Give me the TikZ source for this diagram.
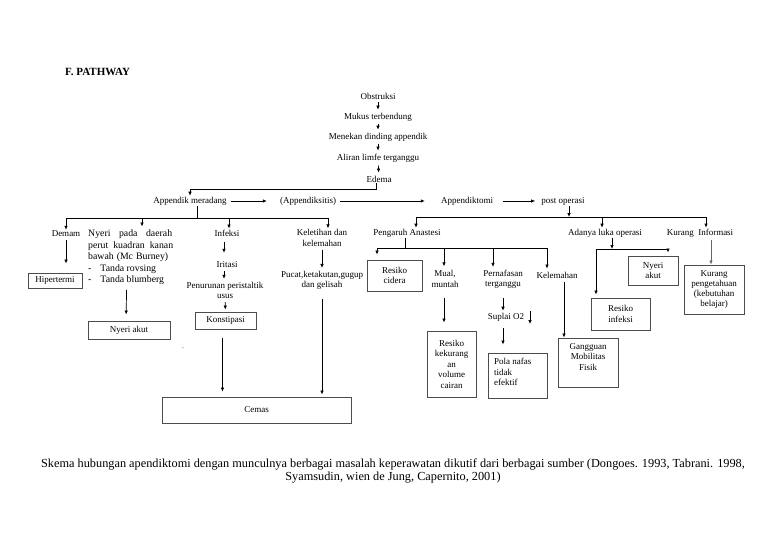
\documentclass[tikz,border=0pt]{standalone}
\usepackage{fontspec}
\setmainfont{Liberation Serif}
\usetikzlibrary{arrows.meta}
\begin{document}
\begin{tikzpicture}[x=1pt,y=-1pt,
  txt/.style={inner sep=1pt, font=\fontsize{9}{10.5}\selectfont, align=center},
  box/.style={draw=black!70, line width=0.9pt, inner sep=1pt, font=\fontsize{9}{10.5}\selectfont, align=center},
  ln/.style={line width=0.7pt},
  arr/.style={line width=0.7pt, -{Latex[length=4pt,width=3.5pt]}},
  sarr/.style={arr, shorten <=2pt, shorten >=2pt}]
\useasboundingbox (0,0) rectangle (768,543);
\node[anchor=west, inner sep=0pt, font=\bfseries\fontsize{11}{13}\selectfont] (ttl) at (65,72) {F. PATHWAY};
% main chain
\node[txt] (obs) at (378,96) {Obstruksi};
\node[txt] (muk) at (378,117) {Mukus terbendung};
\node[txt] (men) at (378,137) {Menekan dinding appendik};
\node[txt] (ali) at (378,158) {Aliran limfe terganggu};
\node[txt] (ede) at (379,179) {Edema};
\draw[sarr] (obs) -- (muk);
\draw[sarr] (muk) -- (men);
\draw[sarr] (men) -- (ali);
\draw[sarr] (ali) -- (ede);
% row
\node[txt] (amr) at (190,201) {Appendik meradang};
\node[txt] (aps) at (308,201) {(Appendiksitis)};
\node[txt] (apt) at (467,201) {Appendiktomi};
\node[txt] (pos) at (563,201) {post operasi};
\draw[arr] ([xshift=-3pt]ede.south) -- ++(0,6) -| (amr.north);
\draw[arr, shorten <=3pt, shorten >=12pt] (amr) -- (aps);
\draw[arr, shorten <=3pt, shorten >=15pt] (aps) -- (apt);
\draw[arr, shorten <=9pt, shorten >=5pt] (apt) -- (pos);
% left bus
\coordinate (lj) at (197,218);
\coordinate (lbL) at (66,218);
\coordinate (lbN) at (142,218);
\coordinate (lbI) at (229,218);
\coordinate (lbR) at (328,218);
\draw[ln] ([xshift=7pt]amr.south) -- (lj);
\draw[ln] (lbL) -- (lbR);
\node[txt] (dem) at (66,234) {Demam};
\node[anchor=north west, inner sep=0pt, align=left, font=\fontsize{9.8}{11.5}\selectfont] (nyr) at (88,229.5) {\makebox[84pt][s]{Nyeri pada daerah}\\\makebox[85pt][s]{perut kuadran kanan}\\\makebox[80pt][s]{bawah (Mc Burney)}\\-\hspace{9pt}Tanda rovsing\\-\hspace{9pt}Tanda blumberg};
\node[txt] (inf) at (227,233) {Infeksi};
\node[txt] (kel) at (322,238) {Keletihan dan\\kelemahan};
\draw[arr] (lbL) -- (dem.north);
\draw[arr, shorten >=3pt] (lbN) -- (lbN |- nyr.north);
\draw[arr] (lbI) -- (lbI |- inf.north);
\draw[arr] (lbR) -- (lbR |- kel.north);
\node[box, minimum width=54, minimum height=15] (hip) at (55,280.5) {Hipertermi};
\draw[arr, shorten <=2pt, shorten >=9pt] (dem.south) -- (dem.south |- hip.north);
\node[box, minimum width=82, minimum height=18] (nak) at (129,330) {Nyeri akut};
\draw[arr, shorten <=5pt, shorten >=6pt] ([xshift=-4pt]nyr.south) -- ([xshift=-3pt]nak.north);
% infeksi column
\node[txt] (iri) at (227,265) {Iritasi};
\node[txt] (pen) at (225,290.5) {Penurunan peristaltik\\usus};
\node[box, minimum width=61, minimum height=17] (kon) at (225.5,320.5) {Konstipasi};
\draw[arr, shorten <=5pt, shorten >=8pt] ([xshift=-3pt]inf.south) -- ([xshift=-3pt]iri.north);
\draw[sarr] ([xshift=-3pt]iri.south) -- ([xshift=-3pt]iri.south |- pen.north);
\draw[sarr] (pen) -- (kon);
\node[box, minimum width=189, minimum height=26] (cem) at (256.5,410) {Cemas};
\draw[arr, shorten <=9pt, shorten >=5pt] ([xshift=-3pt]kon.south) -- ([xshift=-3pt]kon.south |- cem.north);
\node[inner sep=0pt, font=\fontsize{5}{5}\selectfont] (dot) at (183,349) {-};
% keletihan column
\node[txt] (puc) at (322,280.5) {Pucat,ketakutan,gugup\\dan gelisah};
\draw[arr, shorten <=2pt, shorten >=2pt] (kel) -- (puc);
\draw[arr, shorten <=8pt, shorten >=2pt] (puc.south) -- (puc.south |- cem.north);
% right bus
\coordinate (rj) at (569,217);
\coordinate (rbL) at (416,217);
\coordinate (rbA) at (602,217);
\coordinate (rbR) at (706,217);
\draw[arr] ([xshift=6pt]pos.south) -- (rj);
\draw[ln] (rbL) -- (rbR);
\node[txt] (pa) at (407,233) {Pengaruh Anastesi};
\node[txt] (alo) at (605,233) {Adanya luka operasi};
\node[txt] (ki) at (700,233) {Kurang\ \ Informasi};
\draw[arr] (rbL) -- (rbL |- pa.north);
\draw[arr] (rbA) -- (rbA |- alo.north);
\draw[arr] (rbR) -- (rbR |- ki.north);
% pengaruh anastesi bus
\coordinate (pj) at (405,248);
\coordinate (pbL) at (377,248);
\coordinate (pbM) at (444,248);
\coordinate (pbP) at (493,248);
\coordinate (pbR) at (547,248);
\draw[ln] ([xshift=-2pt]pa.south) -- (pj);
\draw[ln] (pbL) -- (pbR);
\node[box, minimum width=55, minimum height=31] (rc) at (394.5,275.5) {Resiko\\cidera};
\node[txt] (mm) at (445,279) {Mual,\\muntah};
\node[txt] (pt) at (503,279.5) {Pernafasan\\terganggu};
\node[txt] (klm) at (557,275) {Kelemahan};
\draw[arr, shorten >=5pt] (pbL) -- (pbL |- rc.north);
\draw[arr, shorten >=3pt] (pbM) -- (pbM |- mm.north);
\draw[arr, shorten >=2pt] (pbP) -- (pbP |- pt.north);
\draw[arr, shorten >=2pt] (pbR) -- (pbR |- klm.north);
\node[box, minimum width=49, minimum height=66] (rkv) at (451.5,364) {Resiko\\kekurang\\an\\volume\\cairan};
\draw[arr, shorten <=9pt, shorten >=8pt] ([xshift=-1pt]mm.south) -- ([xshift=-1pt]mm.south |- rkv.north);
\node[txt] (sup) at (506,317) {Suplai O2};
\draw[arr, shorten <=8pt, shorten >=1pt] (pt.south) -- (pt.south |- sup.north);
\coordinate (sa) at (530,311);
\coordinate (sb) at (530,324);
\draw[arr] (sa) -- (sb);
\node[box, minimum width=59, minimum height=45] (pn) at (517.5,375.5) {};
\node[txt, align=left, anchor=west] (pnt) at (493,372) {Pola nafas\\tidak\\efektif};
\draw[arr, shorten <=6pt, shorten >=8pt] ([xshift=-3pt]sup.south) -- ([xshift=-3pt]sup.south |- pn.north);
\node[box, minimum width=60, minimum height=49] (gmf) at (588,362.5) {};
\node[txt] (gmft) at (588,357) {Gangguan\\Mobilitas\\Fisik};
\draw[arr, shorten <=3pt] ([xshift=7pt]klm.south) -- ([xshift=7pt]klm.south |- gmf.north);
% luka operasi bus
\coordinate (aj) at (612,249);
\coordinate (abL) at (596,249);
\coordinate (abR) at (668,249);
\draw[arr] ([xshift=7pt]alo.south) -- (aj);
\draw[ln] (abL) -- (abR);
\node[box, minimum width=50, minimum height=29] (na2) at (653,270.5) {Nyeri\\akut};
\node[box, minimum width=59, minimum height=32] (ri) at (620.5,314) {Resiko\\infeksi};
\draw[arr, shorten >=3pt] (abL) -- (abL |- ri.north);
\draw[arr, shorten >=3pt] (abR) -- (abR |- na2.north);
% kurang informasi
\node[box, minimum width=60, minimum height=49, font=\fontsize{9}{10}\selectfont] (kp) at (714,289.5) {Kurang\\pengetahuan\\(kebutuhan\\belajar)};
\draw[arr, draw=black!60, shorten <=2pt] ([xshift=11pt]ki.south) -- ([xshift=11pt]ki.south |- kp.north);
% caption
\node[align=center, inner sep=0pt, font=\fontsize{12.3}{13}\selectfont] (cap) at (393,470.5) {Skema hubungan apendiktomi dengan munculnya berbagai masalah keperawatan dikutif dari berbagai sumber (Dongoes. 1993, Tabrani. 1998,\\Syamsudin, wien de Jung, Capernito, 2001)};
\end{tikzpicture}
\end{document}
